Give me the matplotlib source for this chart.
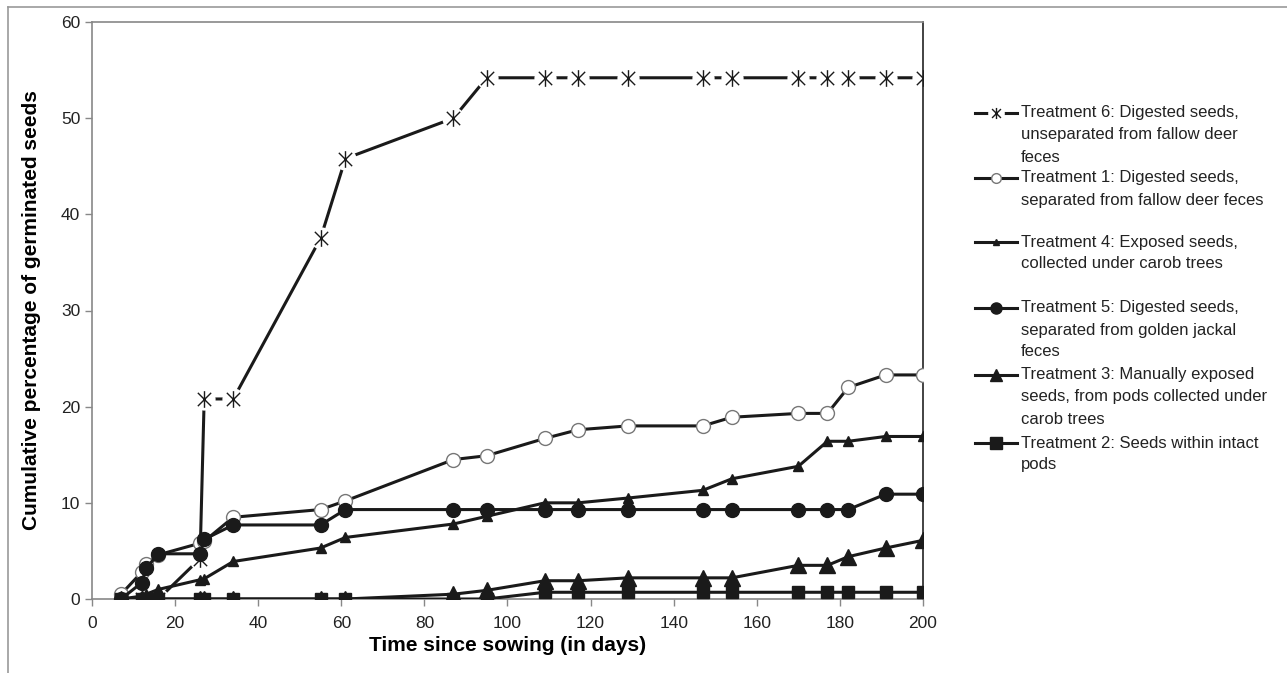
import matplotlib
matplotlib.use("Agg")
import matplotlib.pyplot as plt
from matplotlib.lines import Line2D
from matplotlib.path import Path

plt.rcParams['font.family'] = ['Liberation Sans', 'DejaVu Sans']

# data
days = [7, 12, 13, 16, 26, 27, 34, 55, 61, 87, 95, 109, 117, 129, 147, 154, 170, 177, 182, 191, 200]

t6 = [0, 0, 0, 0, 4.2, 20.8, 20.8, 37.5, 45.8, 50.0, 54.2, 54.2, 54.2, 54.2, 54.2, 54.2, 54.2, 54.2, 54.2, 54.2, 54.2]
t1 = [0.5, 2.8, 3.6, 4.6, 5.8, 6.0, 8.5, 9.3, 10.2, 14.5, 14.9, 16.7, 17.6, 18.0, 18.0, 18.9, 19.3, 19.3, 22.0, 23.3, 23.3]
t4 = [0, 0.3, 0.5, 1.0, 2.0, 2.1, 3.9, 5.3, 6.4, 7.8, 8.6, 10.0, 10.0, 10.5, 11.3, 12.5, 13.8, 16.4, 16.4, 16.9, 16.9]
t5 = [0, 1.7, 3.2, 4.7, 4.7, 6.2, 7.7, 7.7, 9.3, 9.3, 9.3, 9.3, 9.3, 9.3, 9.3, 9.3, 9.3, 9.3, 9.3, 10.9, 10.9]
t3 = [0, 0, 0, 0, 0, 0, 0, 0, 0, 0.5, 0.9, 1.9, 1.9, 2.2, 2.2, 2.2, 3.5, 3.5, 4.4, 5.3, 6.1]
t2 = [0, 0, 0, 0, 0, 0, 0, 0, 0, 0, 0, 0.7, 0.7, 0.7, 0.7, 0.7, 0.7, 0.7, 0.7, 0.7, 0.7]

labels = {
    't6': ["Treatment 6: Digested seeds,", "unseparated from fallow deer", "feces"],
    't1': ["Treatment 1: Digested seeds,", "separated from fallow deer feces"],
    't4': ["Treatment 4: Exposed seeds,", "collected under carob trees"],
    't5': ["Treatment 5: Digested seeds,", "separated from golden jackal", "feces"],
    't3': ["Treatment 3: Manually exposed", "seeds, from pods collected under", "carob trees"],
    't2': ["Treatment 2: Seeds within intact", "pods"],
}

INK = '#1a1a1a'
# excel style star: vertical bar plus an X
ASTER = Path([(0, -1), (0, 1), (-0.8, -0.8), (0.8, 0.8), (-0.8, 0.8), (0.8, -0.8)],
             [Path.MOVETO, Path.LINETO] * 3)

# name, values, marker, size, face, edge, legend marker size
styles = [
    ('t6', t6, ASTER, 12, INK, INK, 8),
    ('t1', t1, 'o', 10, 'white', '#777777', 7),
    ('t4', t4, '^', 7, INK, INK, 5),
    ('t5', t5, 'o', 10, INK, INK, 8),
    ('t3', t3, '^', 11, INK, INK, 9),
    ('t2', t2, 's', 9, INK, INK, 8),
]

W, H = 1287, 673
fig = plt.figure(figsize=(W / 100, H / 100), dpi=100)
ax = fig.add_axes([92 / W, 1 - 599 / H, (923 - 92) / W, (599 - 22) / H])

for i, (name, vals, mk, ms, fc, ec, _) in enumerate(styles):
    z = 3 + i
    if name == 't6':
        ax.plot(days, vals, color=INK, lw=2.2, zorder=2)
        ax.plot(days, vals, ls='none', marker='o', ms=16, mfc='white', mec='none', zorder=2.1)
        ax.plot(days, vals, ls='none', marker=mk, ms=ms, mec=INK, mew=1.0, zorder=2.2)
    else:
        ax.plot(days, vals, color=INK, lw=2.2, marker=mk, ms=ms, mfc=fc, mec=ec,
                mew=1.0, zorder=z)

ax.set_xlim(0, 200)
ax.set_ylim(0, 60)
ax.set_xticks(range(0, 201, 20))
ax.set_yticks(range(0, 61, 10))
ax.tick_params(labelsize=12.5, colors='#222222', length=5, width=1, direction='out')
ax.tick_params(axis='both', color='#888888')
ax.tick_params(axis='x', pad=7)
for s in ['left', 'bottom', 'top']:
    ax.spines[s].set_color('#888888')
    ax.spines[s].set_linewidth(1.2)
ax.spines['right'].set_color('#222222')
ax.spines['right'].set_linewidth(1.2)

ax.set_xlabel('Time since sowing (in days)', fontsize=15, fontweight='bold', labelpad=4)
ax.set_ylabel('Cumulative percentage of germinated seeds', fontsize=15, fontweight='bold', labelpad=14)

# figure border (top and left only visible)
fig.add_artist(Line2D([8 / W, 1], [1 - 7 / H, 1 - 7 / H], transform=fig.transFigure, color='#999999', lw=1.2))
fig.add_artist(Line2D([8 / W, 8 / W], [0, 1 - 7 / H], transform=fig.transFigure, color='#999999', lw=1.2))

# legend, drawn by hand so the marker sits on the first line of each label
first_rows = {'t6': 113, 't1': 178, 't4': 242, 't5': 308, 't3': 375, 't2': 443}
row_gap = 22
for name, vals, mk, ms, fc, ec, lms in styles:
    y = 1 - first_rows[name] / H
    fig.add_artist(Line2D([975 / W, 1017 / W], [y, y], transform=fig.transFigure, color=INK, lw=2.2))
    if name == 't6':
        fig.add_artist(Line2D([996 / W], [y], transform=fig.transFigure, ls='none', marker='o',
                              ms=12, mfc='white', mec='none'))
        fig.add_artist(Line2D([996 / W], [y], transform=fig.transFigure, ls='none', marker=mk,
                              ms=lms, mec=INK, mew=1.0))
    else:
        fig.add_artist(Line2D([996 / W], [y], transform=fig.transFigure, ls='none', marker=mk,
                              ms=lms, mfc=fc, mec=ec, mew=1.0))
    for k, line in enumerate(labels[name]):
        fig.text(1021 / W, 1 - (first_rows[name] + k * row_gap) / H, line,
                 fontsize=12, color='#222222', va='center', ha='left')

fig.savefig('out.png', dpi=100)
